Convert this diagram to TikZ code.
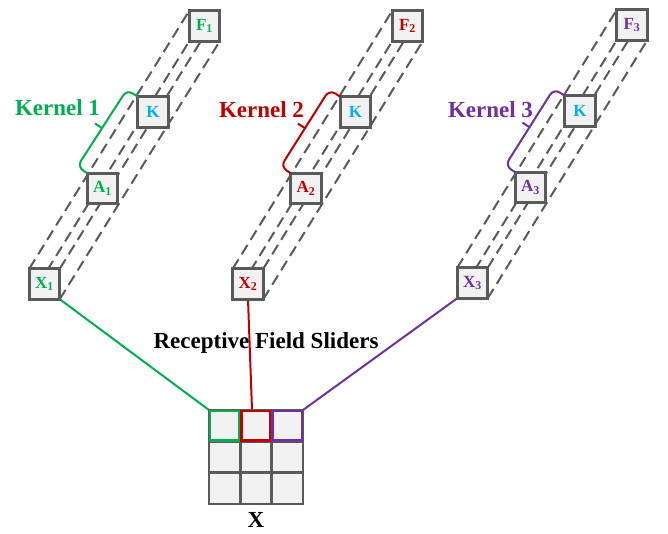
\documentclass[tikz,border=0pt]{standalone}
\usepackage{fontspec}
\setmainfont{Liberation Serif}
\usetikzlibrary{positioning,backgrounds,calc}

\definecolor{kgreen}{HTML}{00B050}
\definecolor{kred}{HTML}{C00000}
\definecolor{kpurple}{HTML}{7030A0}
\definecolor{kblue}{HTML}{00B0F0}
\definecolor{boxgray}{HTML}{5A5A5A}
\definecolor{boxfill}{HTML}{F2F2F2}

\tikzset{
  unit/.style={draw=boxgray, fill=boxfill, line width=2.6pt, minimum size=30.5pt,
    inner sep=0pt, outer sep=0pt, font=\fontsize{17}{17}\selectfont\bfseries},
  cell/.style={draw=boxgray, fill=boxfill, line width=2.6pt, minimum size=31.3pt,
    inner sep=0pt, outer sep=0pt},
  depth/.style={draw=boxgray, line width=2pt, dash pattern=on 11pt off 6pt},
  kernel/.style={line width=2pt, rounded corners=7pt},
  slider/.style={line width=2pt},
  big/.style={font=\fontsize{23}{23}\selectfont\bfseries},
}

\begin{document}
\begin{tikzpicture}[x=1pt,y=1pt]
\useasboundingbox (0,0) rectangle (668,534);

% kernel 1
\node[unit, text=kgreen] (X1) at (44.5,250) {X\textsubscript{1}};
\node[unit, text=kgreen] (A1) at (102.5,345.5) {A\textsubscript{1}};
\node[unit, text=kblue] (K1) at (153,422) {K};
\node[unit, text=kgreen] (F1) at (204.5,508) {F\textsubscript{1}};

% kernel 2
\node[unit, text=kred] (X2) at (248,250) {X\textsubscript{2}};
\node[unit, text=kred] (A2) at (306,345.5) {A\textsubscript{2}};
\node[unit, text=kblue] (K2) at (355.5,422) {K};
\node[unit, text=kred] (F2) at (407.5,508) {F\textsubscript{2}};

% kernel 3
\node[unit, text=kpurple] (X3) at (472.5,251) {X\textsubscript{3}};
\node[unit, text=kpurple] (A3) at (530.5,346.5) {A\textsubscript{3}};
\node[unit, text=kblue] (K3) at (580,423) {K};
\node[unit, text=kpurple] (F3) at (632,509) {F\textsubscript{3}};

% input X
\node[cell] (g11) at (224.7,108.3) {};
\node[cell, right=0pt of g11] (g12) {};
\node[cell, right=0pt of g12] (g13) {};
\node[cell, below=0pt of g11] (g21) {};
\node[cell, right=0pt of g21] (g22) {};
\node[cell, right=0pt of g22] (g23) {};
\node[cell, below=0pt of g21] (g31) {};
\node[cell, right=0pt of g31] (g32) {};
\node[cell, right=0pt of g32] (g33) {};
\node[big, below=5pt of g32] (xlab) {X};

\draw[kgreen, line width=2.6pt] ([shift={(1pt,-1pt)}]g11.north west) rectangle ([shift={(-1pt,1pt)}]g11.south east);
\draw[kred, line width=2.6pt] ([shift={(1pt,-1pt)}]g12.north west) rectangle ([shift={(-1pt,1pt)}]g12.south east);
\draw[kpurple, line width=2.6pt] ([shift={(1pt,-1pt)}]g13.north west) rectangle ([shift={(-1pt,1pt)}]g13.south east);

\begin{scope}[on background layer]
\foreach \n in {1,2,3}
  \foreach \c in {north west,north east,south west,south east}
    \draw[depth] (X\n.\c) -- (F\n.\c);
\draw[slider, kgreen] (X1.south east) -- (g11.north west);
\draw[slider, kred] (X2.south) -- ([xshift=-4pt]g12.north);
\draw[slider, kpurple] (X3.south west) -- (g13.north east);
\end{scope}

\node[big] (sliders) at (266,191) {Receptive Field Sliders};

% kernel brackets
\foreach \n/\col in {1/kgreen,2/kred,3/kpurple} {
  \coordinate (lo\n) at (A\n.north west);
  \coordinate (hi\n) at (K\n.north west);
  \coordinate (mid\n) at ($(lo\n)!0.5!(hi\n)$);
  \draw[kernel, \col] (lo\n) -- ($(lo\n)!12pt!90:(hi\n)$)
    -- ($(hi\n)!13pt!-90:(lo\n)$) -- (hi\n);
  \draw[line width=2pt, \col] ($(mid\n)!12pt!90:(hi\n)$) -- ($(mid\n)!21pt!90:(hi\n)$);
}
\node[big, text=kgreen] (kern1) at (57.5,426) {Kernel 1};
\node[big, text=kred] (kern2) at (261.5,424) {Kernel 2};
\node[big, text=kpurple] (kern3) at (490.5,424) {Kernel 3};
\end{tikzpicture}
\end{document}
